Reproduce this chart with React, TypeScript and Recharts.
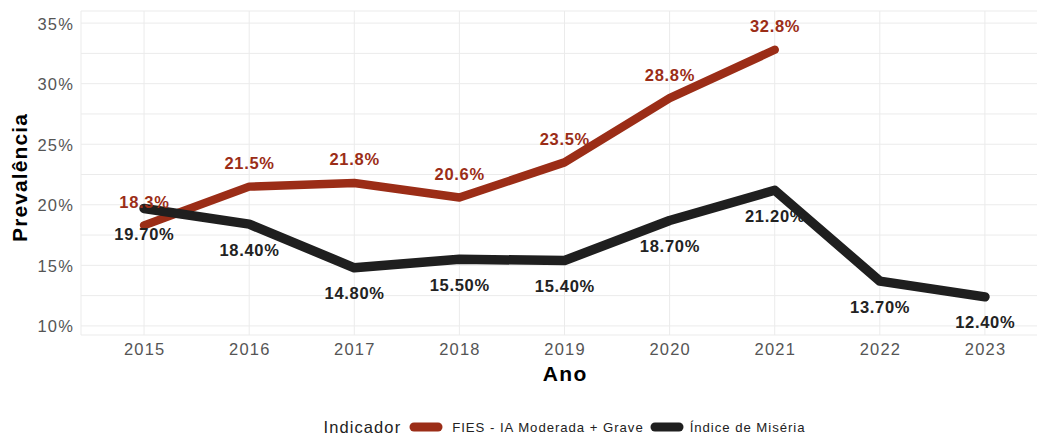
import React from 'react';
import { LineChart, Line, XAxis, YAxis, CartesianGrid, LabelList, Label } from 'recharts';

const years = [2015, 2016, 2017, 2018, 2019, 2020, 2021, 2022, 2023];
const fiesValues: (number | null)[] = [18.3, 21.5, 21.8, 20.6, 23.5, 28.8, 32.8, null, null];
const indiceValues: number[] = [19.7, 18.4, 14.8, 15.5, 15.4, 18.7, 21.2, 13.7, 12.4];
const yTicks = [10, 12.5, 15, 17.5, 20, 22.5, 25, 27.5, 30, 32.5, 35];
const yMajorTicks = [10, 15, 20, 25, 30, 35];
const seriesNames = ['FIES - IA Moderada + Grave', 'Índice de Miséria'];
const seriesColors = ['#9B2D17', '#1F1F1F'];
const legendTitle = 'Indicador';
const xTitle = 'Ano';
const yTitle = 'Prevalência';

const data = years.map((year, i) => ({ year, fies: fiesValues[i], indice: indiceValues[i] }));

const FONT = '"Liberation Sans", Arial, Helvetica, sans-serif';

const XTick = (props: any) => {
  const { x, y, payload } = props;
  return (
    <text x={x + 0.6} y={y + 20} textAnchor="middle" fontFamily={FONT} fontSize={16.5} letterSpacing={1.2} fill="#555">
      {payload.value}
    </text>
  );
};

const YTick = (props: any) => {
  const { x, y, payload } = props;
  if (!yMajorTicks.includes(payload.value)) return <g />;
  return (
    <text x={x - 7} y={y + 6.5} textAnchor="end" fontFamily={FONT} fontSize={16.5} letterSpacing={1.2} fill="#555">
      {`${payload.value}%`}
    </text>
  );
};

const makeLabel = (color: string, dy: number, digits: number) => (props: any) => {
  const { x, y, value } = props;
  if (value === null || value === undefined || y === null || y === undefined || isNaN(y)) return null;
  return (
    <text x={x + 0.35} y={y + dy} textAnchor="middle" fontFamily={FONT} fontWeight="bold" fontSize={16.5} letterSpacing={0.7} fill={color}>
      {`${Number(value).toFixed(digits)}%`}
    </text>
  );
};

const LegendKey = ({ color }: { color: string }) => (
  <svg width={34} height={12} style={{ display: 'block' }}>
    <line x1={5} y1={6} x2={29} y2={6} stroke={color} strokeWidth={9} strokeLinecap="round" />
  </svg>
);

export default function App() {
  return (
    <div style={{ position: 'absolute', left: 0, top: 0, width: 1037, height: 434, overflow: 'hidden', background: '#fff', fontFamily: FONT }}>
      <LineChart width={1048} height={434} data={data} margin={{ top: 11, right: 0, bottom: 0, left: 0 }}>
        <CartesianGrid stroke="#EBEBEB" strokeWidth={1} />
        <XAxis
          dataKey="year"
          type="number"
          domain={[2014.4, 2023.6]}
          ticks={years}
          height={99}
          tickLine={false}
          axisLine={false}
          tickSize={0}
          tickMargin={0}
          tick={<XTick />}
          interval={0}
          allowDataOverflow
        >
          <Label
            content={(p: any) => {
              const vb = p.viewBox;
              return (
                <text x={vb.x + vb.width / 2 + 0.7} y={vb.y + 46} textAnchor="middle" fontFamily={FONT} fontWeight="bold" fontSize={21} letterSpacing={1.4} fill="#000">
                  {xTitle}
                </text>
              );
            }}
          />
        </XAxis>
        <YAxis
          type="number"
          domain={[9.25, 36]}
          ticks={yTicks}
          width={81}
          tickLine={false}
          axisLine={false}
          tickSize={0}
          tickMargin={0}
          tick={<YTick />}
          interval={0}
          allowDataOverflow
        >
          <Label
            content={(p: any) => {
              const vb = p.viewBox;
              const cy = vb.y + vb.height / 2 + 4.5;
              return (
                <text x={27} y={cy} transform={`rotate(-90 27 ${cy})`} textAnchor="middle" fontFamily={FONT} fontWeight="bold" fontSize={21} letterSpacing={1.1} fill="#000">
                  {yTitle}
                </text>
              );
            }}
          />
        </YAxis>
        <Line dataKey="fies" stroke="none" dot={false} activeDot={false} isAnimationActive={false} connectNulls={false}>
          <LabelList dataKey="fies" content={makeLabel(seriesColors[0], -17.5, 1)} />
        </Line>
        <Line dataKey="indice" stroke="none" dot={false} activeDot={false} isAnimationActive={false}>
          <LabelList dataKey="indice" content={makeLabel('#222222', 31.5, 2)} />
        </Line>
        <Line
          dataKey="fies"
          name={seriesNames[0]}
          type="linear"
          stroke={seriesColors[0]}
          strokeWidth={8.5}
          strokeLinecap="round"
          strokeLinejoin="round"
          dot={false}
          activeDot={false}
          isAnimationActive={false}
        />
        <Line
          dataKey="indice"
          name={seriesNames[1]}
          type="linear"
          stroke={seriesColors[1]}
          strokeWidth={9.5}
          strokeLinecap="round"
          strokeLinejoin="round"
          dot={false}
          activeDot={false}
          isAnimationActive={false}
        />
      </LineChart>
      <div
        style={{
          position: 'absolute',
          left: 0,
          top: 418,
          width: 1129,
          height: 18,
          display: 'flex',
          justifyContent: 'center',
          alignItems: 'center',
          whiteSpace: 'nowrap',
        }}
      >
        <span style={{ fontSize: 16.5, letterSpacing: 1.1, color: '#222', marginRight: 8 }}>{legendTitle}</span>
        <LegendKey color={seriesColors[0]} />
        <span style={{ fontSize: 13.2, letterSpacing: 0.95, color: '#222', marginLeft: 9, marginRight: 6 }}>{seriesNames[0]}</span>
        <LegendKey color={seriesColors[1]} />
        <span style={{ fontSize: 13.2, letterSpacing: 0.95, color: '#222', marginLeft: 6 }}>{seriesNames[1]}</span>
      </div>
    </div>
  );
}
